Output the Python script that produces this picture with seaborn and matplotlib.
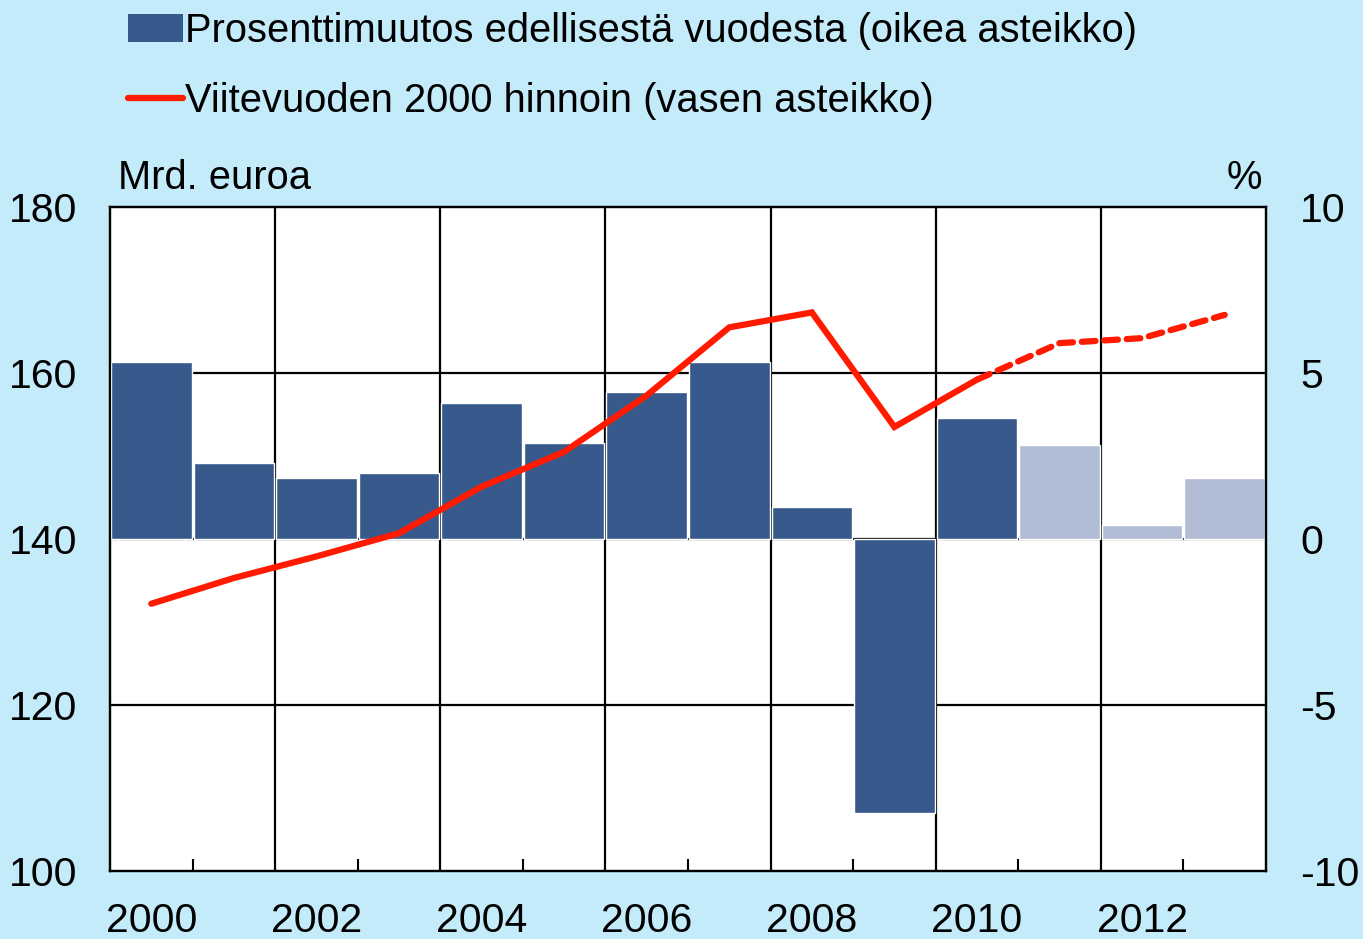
import matplotlib
matplotlib.use("Agg")
import matplotlib.pyplot as plt
import seaborn as sns
import pandas as pd
import numpy as np
from matplotlib.patches import Patch
from matplotlib.lines import Line2D

years = [2000, 2001, 2002, 2003, 2004, 2005, 2006, 2007, 2008, 2009, 2010, 2011, 2012, 2013]
pct_change = [5.33, 2.28, 1.83, 1.99, 4.09, 2.90, 4.43, 5.33, 0.97, -8.25, 3.64, 2.83, 0.42, 1.84]
bar_kind = ["toteutunut"] * 11 + ["ennuste"] * 3
gdp_2000_prices = [132.2, 135.3, 137.9, 140.7, 146.3, 150.5, 157.3, 165.5, 167.3, 153.5, 159.2, 163.6, 164.2, 167.0]
line_kind = ["toteutunut"] * 11 + ["ennuste"] * 3
xtick_labels = ["2000", "2002", "2004", "2006", "2008", "2010", "2012"]
left_ticks = [100, 120, 140, 160, 180]
right_ticks = [-10, -5, 0, 5, 10]
legend_labels = ["Prosenttimuutos edellisestä vuodesta (oikea asteikko)",
                 "Viitevuoden 2000 hinnoin (vasen asteikko)"]
left_title = "Mrd. euroa"
right_title = "%"

DARK = "#38598b"
LIGHT = "#b1bcd5"
RED = "#ff1a00"
BG = "#c4ebfa"

sns.set_style("white")
plt.rcParams["font.family"] = ["Liberation Sans", "DejaVu Sans"]
plt.rcParams["text.color"] = "black"
plt.rcParams["xtick.color"] = "black"
plt.rcParams["ytick.color"] = "black"
plt.rcParams["xtick.labelcolor"] = "black"
plt.rcParams["ytick.labelcolor"] = "black"
FS = 29.5
LFS = 28.7

fig = plt.figure(figsize=(13.63, 9.39), dpi=100, facecolor=BG)
ax_bar = fig.add_axes([110 / 1363, 1 - 871 / 939, (1266 - 110) / 1363, (871 - 207) / 939])
ax_line = ax_bar.twinx()

# bars (right scale)
bars_df = pd.DataFrame({"year": [str(y) for y in years], "value": pct_change, "kind": bar_kind})
sns.barplot(data=bars_df, x="year", y="value", hue="kind",
            palette={"toteutunut": DARK, "ennuste": LIGHT},
            dodge=False, width=0.975, legend=False, saturation=1, ax=ax_bar, zorder=3)

ax_bar.set_xlim(-0.5, len(years) - 0.5)
ax_bar.set_ylim(-10, 10)
ax_bar.set_facecolor("white")
ax_bar.set_xlabel("")
ax_bar.set_ylabel("")

# line (left scale)
pos = np.arange(len(years))
line_df = pd.DataFrame({"pos": pos, "value": gdp_2000_prices, "kind": line_kind})
hist = line_df[line_df["kind"] == "toteutunut"]
fc = pd.concat([hist.iloc[[-1]], line_df[line_df["kind"] == "ennuste"]])
sns.lineplot(data=hist, x="pos", y="value", color=RED, linewidth=4.5,
             solid_capstyle="round", solid_joinstyle="miter", ax=ax_line, zorder=5)
sns.lineplot(data=fc, x="pos", y="value", color=RED, linewidth=4.5,
             linestyle=(0, (2.2, 1.4)), dash_capstyle="round", ax=ax_line, zorder=5)
ax_line.set_ylim(100, 180)
ax_line.set_xlim(-0.5, len(years) - 0.5)
ax_line.set_xlabel("")
ax_line.set_ylabel("")

ax_bar.set_zorder(1)
ax_line.set_zorder(2)
ax_line.patch.set_visible(False)

ax_line.yaxis.tick_left()
ax_bar.yaxis.tick_right()
ax_line.set_yticks(left_ticks)
ax_line.set_yticklabels([str(t) for t in left_ticks])
ax_bar.set_yticks(right_ticks)
ax_bar.set_yticklabels([str(t) for t in right_ticks])
ax_line.tick_params(axis="y", which="both", left=False, right=False, labelleft=True,
                    labelright=False, labelsize=FS, pad=20, labelcolor="black")
ax_bar.tick_params(axis="y", which="both", left=False, right=False, labelleft=False,
                   labelright=True, labelsize=FS, pad=21, labelcolor="black")

ax_bar.set_xticks(np.arange(0, len(years), 2))
ax_bar.set_xticklabels(xtick_labels)
ax_bar.set_xticks(np.arange(0.5, len(years) - 1, 2), minor=True)
ax_bar.tick_params(axis="x", which="major", length=0, labelsize=FS, pad=22, labelcolor="black")
ax_bar.tick_params(axis="x", which="minor", direction="in", length=9, width=1.5,
                   color="black", bottom=True)
ax_line.tick_params(axis="x", which="both", bottom=False, labelbottom=False)

for gx in np.arange(1.5, len(years) - 1, 2):
    ax_bar.axvline(gx, color="black", linewidth=1.6, zorder=1)
for gy in right_ticks[1:-1]:
    ax_bar.axhline(gy, color="black", linewidth=1.6, zorder=1)

for a in (ax_bar, ax_line):
    for s in a.spines.values():
        s.set_color("black")
        s.set_linewidth(1.6)
        s.set_visible(True)

fig.text(118 / 1363, 1 - 178 / 939, left_title, fontsize=LFS, ha="left", va="center", color="black")
fig.text(1262 / 1363, 1 - 178 / 939, right_title, fontsize=LFS, ha="right", va="center", color="black")

handles = [Patch(facecolor=DARK, edgecolor="none"),
           Line2D([0], [0], color=RED, linewidth=4.5, solid_capstyle="round")]
leg = fig.legend(handles, legend_labels, loc="upper left",
                 bbox_to_anchor=(120 / 1363, 1 - 4 / 939), frameon=False, fontsize=LFS,
                 handlelength=1.38, handleheight=0.68, handletextpad=0.04, labelspacing=0.8,
                 borderaxespad=0, borderpad=0.2)
for t in leg.get_texts():
    t.set_color("black")

fig.savefig("out.png", dpi=100, facecolor=BG)
